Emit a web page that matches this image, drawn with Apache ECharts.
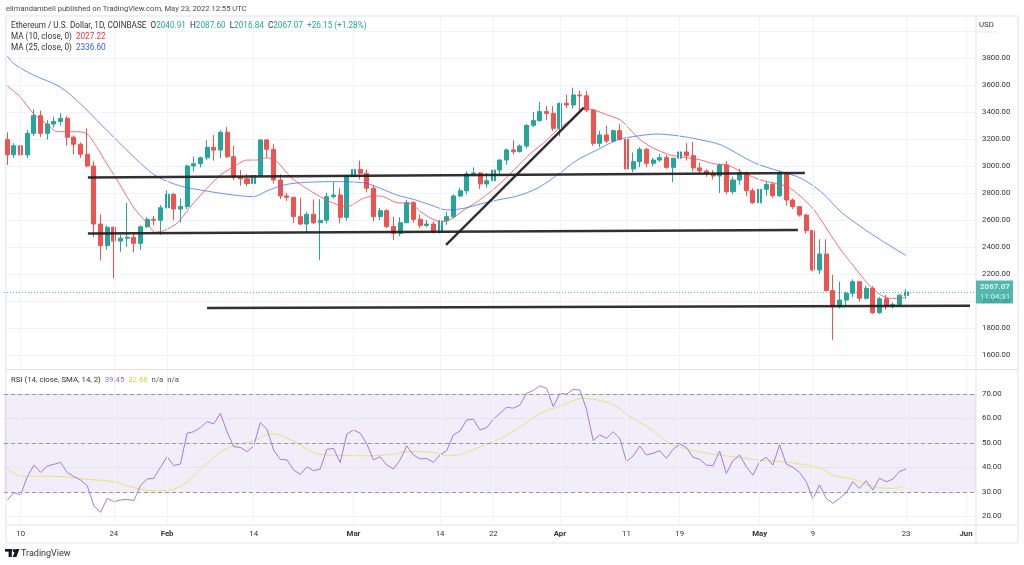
<!DOCTYPE html>
<html><head><meta charset="utf-8">
<script src="https://cdn.jsdelivr.net/npm/echarts@6/dist/echarts.min.js"></script>
<style>html,body{margin:0;padding:0;background:#fff}#c{width:1024px;height:565px}</style>
</head><body><div id="c"></div>
<script>
// ---------- data ----------
const startDate = '2022-01-08';
const nCategories = 146; // Jan 8 .. Jun 2 (daily)
const openP  = [3195,3083,3150,3082,3242,3373,3242,3311,3330,3353,3213,3161,3087,3000,2570,2410,2546,2444,2465,2472,2427,2550,2605,2598,2691,2790,2681,2700,3000,3017,3061,3138,3118,3250,3069,2916,2905,2870,2930,3193,3124,2896,2778,2768,2625,2570,2642,2580,2598,2773,2785,2620,2922,2975,2946,2835,2625,2669,2551,2501,2580,2728,2605,2560,2570,2515,2593,2625,2778,2817,2941,2948,2867,2891,2970,3044,3119,3106,3148,3301,3336,3403,3390,3279,3464,3452,3526,3520,3415,3168,3230,3185,3262,3198,2978,3032,3124,3020,3044,3062,2990,3058,3104,3077,2986,2963,2945,2926,3007,2810,2896,2950,2817,2728,2827,2864,2780,2950,2748,2699,2637,2521,2230,2348,2077,1958,2007,2057,2143,2020,2094,1913,2017,1958,1975,2040.91];
const highP  = [3250,3170,3170,3268,3420,3410,3340,3365,3392,3370,3225,3175,3280,3037,2640,2560,2552,2490,2728,2500,2560,2620,2630,2710,2820,2800,2760,3010,3070,3070,3190,3230,3265,3290,3150,2970,2940,2945,3200,3200,3165,2940,2800,2770,2765,2660,2753,2753,2800,2879,2835,2935,3040,3040,2975,2860,2690,2680,2625,2620,2750,2740,2640,2600,2590,2600,2660,2790,2840,2960,2990,2955,2950,3040,3050,3130,3190,3160,3310,3400,3475,3445,3445,3470,3530,3580,3560,3555,3420,3260,3300,3270,3310,3212,3100,3140,3135,3060,3090,3080,3060,3125,3170,3180,3025,2975,2970,3020,3035,2920,2980,2960,2835,2840,2885,2880,2965,2955,2760,2700,2645,2525,2457,2457,2193,2143,2070,2160,2145,2115,2110,2030,2045,1990,2050,2087.60];
const lowP   = [3008,3060,2933,3060,3222,3215,3195,3285,3300,3150,3085,3060,2990,2475,2300,2380,2168,2365,2402,2360,2380,2540,2560,2490,2685,2600,2580,2680,2960,2990,3045,3040,3060,3060,2895,2855,2850,2840,2920,3065,2870,2755,2740,2578,2560,2506,2570,2304,2575,2760,2575,2595,2900,2900,2805,2590,2600,2540,2452,2480,2575,2580,2540,2545,2500,2500,2565,2610,2770,2790,2930,2830,2840,2880,2940,3010,3085,3100,3130,3290,3330,3340,3260,3220,3430,3425,3405,3400,3150,3140,3170,3175,3190,2960,2955,2990,2990,3000,3030,2980,2880,3050,3040,2960,2940,2920,2900,2800,2790,2790,2860,2775,2720,2725,2780,2765,2770,2705,2680,2625,2500,2220,2200,2070,1711,1945,1955,2030,1995,2010,1905,1905,1935,1945,1965,2016.84];
const closeP = [3083,3150,3082,3242,3373,3242,3311,3330,3353,3213,3161,3087,3000,2570,2410,2546,2444,2465,2472,2427,2550,2605,2598,2691,2790,2681,2700,3000,3017,3061,3138,3118,3250,3069,2916,2905,2870,2930,3193,3124,2896,2778,2768,2625,2570,2642,2580,2598,2773,2785,2620,2922,2975,2946,2835,2625,2669,2551,2501,2580,2728,2605,2560,2570,2515,2593,2625,2778,2817,2941,2948,2867,2891,2970,3044,3119,3106,3148,3301,3336,3403,3390,3279,3464,3452,3526,3520,3415,3168,3230,3185,3262,3198,2978,3032,3124,3020,3044,3062,2990,3058,3104,3077,2986,2963,2945,2926,3007,2810,2896,2950,2817,2728,2827,2864,2780,2950,2748,2699,2637,2521,2230,2348,2077,1958,2007,2057,2143,2020,2094,1913,2017,1958,1975,2043,2067.07];

// moving averages: [day index, price]
const ma10 = [[0,3593],[1.9,3513],[3.9,3390],[6.4,3291],[7.4,3254],[9.9,3254],[11.9,3242],[13.4,3143],[14.9,3020],[16.5,2896],[18.9,2698],[21,2576],[22.2,2509],[23.5,2521],[25.5,2576],[27.5,2698],[30,2835],[32,2933],[34,2995],[36,3044],[37.5,3044],[39,3061],[40.5,3032],[42.5,2921],[44.5,2847],[47,2773],[49,2724],[51,2698],[53.5,2761],[55,2778],[56.5,2773],[58.5,2728],[60.5,2724],[62.1,2661],[63.6,2613],[65.1,2587],[66.6,2605],[68.6,2674],[70.6,2736],[72.6,2810],[74.6,2896],[76.6,2995],[78.6,3094],[80.6,3173],[82.6,3267],[84.6,3341],[86.6,3427],[88.1,3415],[90.1,3378],[92.1,3341],[93.6,3267],[95.1,3193],[97.1,3131],[99.6,3081],[101.2,3069],[104.2,3044],[106.2,3015],[108.2,3007],[110.7,2946],[113.2,2896],[115.2,2872],[117.2,2847],[119.2,2773],[121.2,2674],[123.2,2526],[125.2,2378],[127.2,2254],[129.2,2131],[131.2,2044],[132.7,2020],[134,2020],[135,2027.22]];
const ma25 = [[0,3815],[0.9,3761],[3.9,3674],[7.9,3587],[10.9,3464],[13.9,3316],[16.9,3168],[20,3020],[22.5,2921],[26,2852],[29,2822],[34,2785],[37,2773],[39,2815],[41.5,2859],[44,2876],[48.5,2884],[53.5,2876],[56,2835],[58.5,2785],[61,2753],[63.6,2711],[66.1,2674],[68.6,2687],[71.1,2719],[73.6,2748],[76.6,2778],[79.6,2835],[82.6,2933],[85.6,3044],[88.6,3119],[91.6,3193],[94.6,3222],[97.6,3237],[99.6,3230],[101.9,3215],[104.2,3193],[107.2,3156],[112.2,3024],[116.2,2958],[119.2,2909],[122.2,2810],[125.2,2661],[128.2,2550],[131.2,2452],[135,2336.6]];

// RSI (daily) and its SMA
const rsi = [26.7,29.7,28.8,36.3,41.0,38.0,40.6,41.3,42.1,38.0,36.3,34.9,32.6,24.3,21.7,27.4,26.1,26.7,27.0,26.5,32.6,35.3,35.6,40.1,44.4,40.8,41.4,54.0,54.6,56.3,58.7,57.8,62.1,54.6,48.5,48.2,46.5,48.8,58.3,55.6,47.1,43.3,43.1,39.0,37.2,40.3,38.7,39.4,47.4,47.8,42.0,53.7,55.3,54.0,49.6,43.1,44.4,41.0,39.4,43.1,48.8,45.1,43.5,43.7,42.1,45.1,46.9,53.3,54.9,59.4,59.7,55.3,56.3,59.7,62.1,64.6,64.2,65.5,70.3,71.4,73.3,72.3,64.8,70.3,69.9,71.9,71.6,63.7,51.0,53.3,51.9,54.6,51.9,42.4,44.7,48.8,45.1,45.8,46.9,43.7,47.4,49.6,48.2,44.2,43.3,41.0,40.7,46.7,37.6,42.8,45.1,40.3,36.9,42.4,44.2,41.0,49.3,41.4,40.1,38.0,34.2,27.2,32.9,27.4,25.4,27.4,29.7,34.2,31.5,34.6,30.8,35.6,34.2,35.2,38.3,39.45];
const rsiMa = [[0,39.7],[2.2,36.5],[7.9,36.3],[11.9,35.2],[15.9,34.2],[19.4,31.5],[22.2,30.5],[25.9,32.2],[30,41.7],[33,47.8],[37,51.0],[39.8,53.7],[42.6,51.2],[47.1,45.4],[53.1,44.8],[58.1,45.4],[60.1,46.5],[64.1,46.1],[66.1,44.8],[68.1,45.4],[71.1,48.5],[74.1,51.9],[77.1,56.7],[80.1,62.1],[83.1,65.1],[86.6,68.2],[89.1,67.3],[91.4,65.1],[93.1,61.4],[96.1,56.7],[99.6,49.6],[101.1,48.2],[106.1,45.4],[109.1,44.4],[112.1,43.3],[116.1,42.4],[119.1,41.4],[122.1,39.7],[124.1,36.9],[127.1,35.2],[130.1,32.2],[133.1,31.5],[135,32.66]];

// user-drawn trend lines: [day index, price]
const resistanceLine = [[12.1,2915],[119.8,2948]];
const supportLine    = [[12.1,2500],[118.75,2526]];
const risingLine     = [[65.9,2415],[86.6,3432]];
const floorLine      = [[30.0,1948],[144.6,1965]];

const tickDates = ['2022-01-10','2022-01-24','2022-02-01','2022-02-14','2022-03-01','2022-03-14','2022-03-22','2022-04-01','2022-04-11','2022-04-19','2022-05-01','2022-05-09','2022-05-23','2022-06-01'];
const tickTexts = ['10','24','Feb','14','Mar','14','22','Apr','11','19','May','9','23','Jun'];
const priceTicks = {min:1600, max:4000, step:200};
const rsiTicks = {min:20, max:80, step:10};
const rsiLevels = [70,50,30];
const lastPrice = 2067.07;
const countdown = '11:04:31';

// ---------- build ----------
const cats = [];
{
  const d0 = new Date(startDate + 'T00:00:00Z');
  for (let i = 0; i < nCategories; i++) {
    const d = new Date(d0.getTime() + i * 86400000);
    cats.push(d.toISOString().slice(0,10));
  }
}
const tickMap = {};
tickDates.forEach((d,k)=>{ tickMap[d] = tickTexts[k]; });
const isTick = (idx, val) => tickMap[val] !== undefined;
const candles = closeP.map((c,i)=>[openP[i], c, lowP[i], highP[i]]);

const FONT = 'Roboto, "Noto Sans", sans-serif';
const TXT = '#333';
const GRIDC = '#f0f3fa';
const UP = '#26a69a', DOWN = '#ef5350';
const LINE_BLACK = '#1e1e1e';
const LF = 8.2; // legend font size

function trend(data){
  return {type:'line', xAxisIndex:2, yAxisIndex:0, data, showSymbol:false, symbol:'none', silent:true, z:5,
    lineStyle:{color:LINE_BLACK, width:2.4, opacity:0.92}};
}

const chart = echarts.init(document.getElementById('c'), null, {renderer:'canvas'});
chart.setOption({
  animation:false,
  backgroundColor:'#ffffff',
  textStyle:{fontFamily:FONT},
  grid:[
    {left:4, width:972, top:31, height:324, outerBoundsMode:'none', containLabel:false},
    {left:4, width:972, top:369.5, height:147, outerBoundsMode:'none', containLabel:false},
    {left:4, width:972, top:16, height:509, outerBoundsMode:'none', containLabel:false}
  ],
  xAxis:[
    {type:'category', gridIndex:0, data:cats, boundaryGap:true, axisLine:{show:false}, axisTick:{show:false}, axisLabel:{show:false}, splitLine:{show:false}},
    {type:'category', gridIndex:1, data:cats, boundaryGap:true, axisLine:{show:false}, axisTick:{show:false}, splitLine:{show:false},
      axisLabel:{show:true, interval:isTick, margin:14, fontSize:7.8, color:TXT, fontFamily:FONT, hideOverlap:false,
        formatter:(v)=>{ const t = tickMap[v]; if (t===undefined) return ''; return /[A-Za-z]/.test(t) ? '{m|'+t+'}' : t; },
        rich:{m:{fontWeight:'bold', fontSize:7.8, color:TXT, fontFamily:FONT}}}},
    {type:'value', gridIndex:0, min:-0.5, max:nCategories-0.5, show:false},
    {type:'value', gridIndex:1, min:-0.5, max:nCategories-0.5, show:false},
    {type:'category', gridIndex:2, data:cats, boundaryGap:true, show:false}
  ],
  yAxis:[
    {type:'value', gridIndex:0, position:'right', min:priceTicks.min, max:priceTicks.max, interval:priceTicks.step,
      axisLine:{show:false}, axisTick:{show:false},
      axisLabel:{margin:6, fontSize:7.8, color:TXT, fontFamily:FONT, formatter:(v)=> v>=priceTicks.max ? '' : v.toFixed(2)},
      splitLine:{show:true, lineStyle:{color:GRIDC, width:1}}},
    {type:'value', gridIndex:1, position:'right', min:rsiTicks.min, max:rsiTicks.max, interval:rsiTicks.step,
      axisLine:{show:false}, axisTick:{show:false},
      axisLabel:{margin:6, fontSize:7.8, color:TXT, fontFamily:FONT, formatter:(v)=> v>=rsiTicks.max ? '' : v.toFixed(2)},
      splitLine:{show:true, lineStyle:{color:GRIDC, width:1}}},
    {type:'value', gridIndex:2, min:0, max:1, show:false}
  ],
  series:[
    // vertical time grid lines at the labelled dates
    {type:'line', xAxisIndex:4, yAxisIndex:2, data:[], silent:true, z:0,
      markLine:{silent:true, symbol:['none','none'], label:{show:false},
        lineStyle:{color:GRIDC, width:1, type:'solid'},
        data: tickDates.map(d=>({xAxis:d}))}},
    {type:'candlestick', name:'ETHUSD', xAxisIndex:0, yAxisIndex:0, data:candles, barWidth:'68%', z:3,
      itemStyle:{color:UP, color0:DOWN, borderColor:UP, borderColor0:DOWN, borderColorDoji:UP, borderWidth:1},
      markLine:{silent:true, symbol:['none','none'], precision:2,
        lineStyle:{color:UP, type:[1,2], width:1, opacity:0.8},
        label:{show:true, position:'end', distance:0, formatter:(p)=>'{a|'+p.value.toFixed(2)+'}\n{b|'+countdown+'}',
          backgroundColor:UP, padding:[2,3,1,4], align:'left',
          rich:{a:{color:'#fff', fontSize:8, fontWeight:'bold', fontFamily:FONT, lineHeight:10},
                b:{color:'#fff', fontSize:7.8, fontFamily:FONT, lineHeight:10}}},
        data:[{yAxis:lastPrice}]}},
    {type:'line', name:'MA10', xAxisIndex:2, yAxisIndex:0, data:ma10, showSymbol:false, symbol:'none', smooth:0.25, z:4,
      lineStyle:{color:'#f7525f', width:1, opacity:0.85}},
    {type:'line', name:'MA25', xAxisIndex:2, yAxisIndex:0, data:ma25, showSymbol:false, symbol:'none', smooth:0.3, z:4,
      lineStyle:{color:'#2962ff', width:1, opacity:0.7}},
    trend(resistanceLine), trend(supportLine), trend(risingLine), trend(floorLine),
    {type:'line', name:'RSI', xAxisIndex:1, yAxisIndex:1, data:rsi, showSymbol:false, symbol:'none', z:4,
      lineStyle:{color:'#a678e0', width:1},
      markArea:{silent:true, itemStyle:{color:'rgba(126,87,194,0.1)'}, data:[[{yAxis:30},{yAxis:70}]]},
      markLine:{silent:true, symbol:['none','none'], label:{show:false},
        lineStyle:{color:'#9598a1', width:1, type:[4,3]},
        data: rsiLevels.map(v=>({yAxis:v}))}},
    {type:'line', name:'RSI MA', xAxisIndex:3, yAxisIndex:1, data:rsiMa, showSymbol:false, symbol:'none', smooth:0.4, z:3,
      lineStyle:{color:'#dfe57a', width:1}}
  ],
  graphic:[
    // frame and pane separators
    {type:'rect', z:1, silent:true, shape:{x:6, y:16, width:1012, height:527}, style:{fill:'none', stroke:'#e0e3eb', lineWidth:1}},
    {type:'line', z:1, silent:true, shape:{x1:976, y1:16, x2:976, y2:543}, style:{stroke:'#e0e3eb', lineWidth:1}},
    {type:'line', z:1, silent:true, shape:{x1:6, y1:369.5, x2:1018, y2:369.5}, style:{stroke:'#e0e3eb', lineWidth:1}},
    {type:'line', z:1, silent:true, shape:{x1:6, y1:525, x2:1018, y2:525}, style:{stroke:'#e0e3eb', lineWidth:1}},
    // header
    {type:'text', z:20, silent:true, x:6, y:9, style:{text:'elimandambell published on TradingView.com, May 23, 2022 12:55 UTC', fill:'#4a4a4a', fontSize:7.6, fontFamily:FONT, verticalAlign:'middle'}},
    {type:'text', z:20, silent:true, x:11, y:26, style:{
      text:'{t|Ethereum / U.S. Dollar, 1D, COINBASE}  {t|O}{v|2040.91}  {t|H}{v|2087.60}  {t|L}{v|2016.84}  {t|C}{v|2067.07}  {v|+26.15 (+1.28%)}',
      fontSize:LF, fontFamily:FONT, fill:'#333', verticalAlign:'middle',
      rich:{t:{fill:'#333', fontSize:LF, fontFamily:FONT}, v:{fill:UP, fontSize:LF, fontFamily:FONT}}}},
    {type:'text', z:20, silent:true, x:11, y:37, style:{
      text:'{t|MA (10, close, 0)}  {r|2027.22}', fontSize:LF, fontFamily:FONT, verticalAlign:'middle',
      rich:{t:{fill:'#333', fontSize:LF, fontFamily:FONT}, r:{fill:'#f23645', fontSize:LF, fontFamily:FONT}}}},
    {type:'text', z:20, silent:true, x:11, y:48, style:{
      text:'{t|MA (25, close, 0)}  {b|2336.60}', fontSize:LF, fontFamily:FONT, verticalAlign:'middle',
      rich:{t:{fill:'#333', fontSize:LF, fontFamily:FONT}, b:{fill:'#2962ff', fontSize:LF, fontFamily:FONT}}}},
    {type:'text', z:20, silent:true, x:11, y:380, style:{
      text:'{t|RSI (14, close, SMA, 14, 2)}  {p|39.45}  {y|32.66}  {g|n/a}  {g|n/a}', fontSize:7.8, fontFamily:FONT, verticalAlign:'middle',
      rich:{t:{fill:'#333', fontSize:7.8, fontFamily:FONT}, p:{fill:'#9c6ade', fontSize:7.8, fontFamily:FONT},
            y:{fill:'#d0d630', fontSize:7.8, fontFamily:FONT}, g:{fill:'#555', fontSize:7.8, fontFamily:FONT}}}},
    {type:'text', z:20, silent:true, x:979, y:25, style:{text:'USD', fill:'#333', fontSize:7.8, fontFamily:FONT, verticalAlign:'middle'}},
    {type:'line', z:20, silent:true, shape:{x1:979, y1:32, x2:996, y2:32}, style:{stroke:'#bbb', lineWidth:1, lineDash:[1,2]}},
    // TradingView logo
    {type:'rect', z:20, silent:true, shape:{x:5, y:549, width:7, height:2.6}, style:{fill:'#131722'}},
    {type:'rect', z:20, silent:true, shape:{x:8.6, y:549, width:3.2, height:8}, style:{fill:'#131722'}},
    {type:'circle', z:20, silent:true, shape:{cx:14.2, cy:550.4, r:1.5}, style:{fill:'#131722'}},
    {type:'polygon', z:20, silent:true, shape:{points:[[15.6,549],[19.4,549],[16.4,557],[12.8,557]]}, style:{fill:'#131722'}},
    {type:'text', z:20, silent:true, x:21, y:553.5, style:{text:'TradingView', fill:'#333', fontSize:9, fontFamily:FONT, verticalAlign:'middle'}}
  ]
});
</script>
</body></html>
